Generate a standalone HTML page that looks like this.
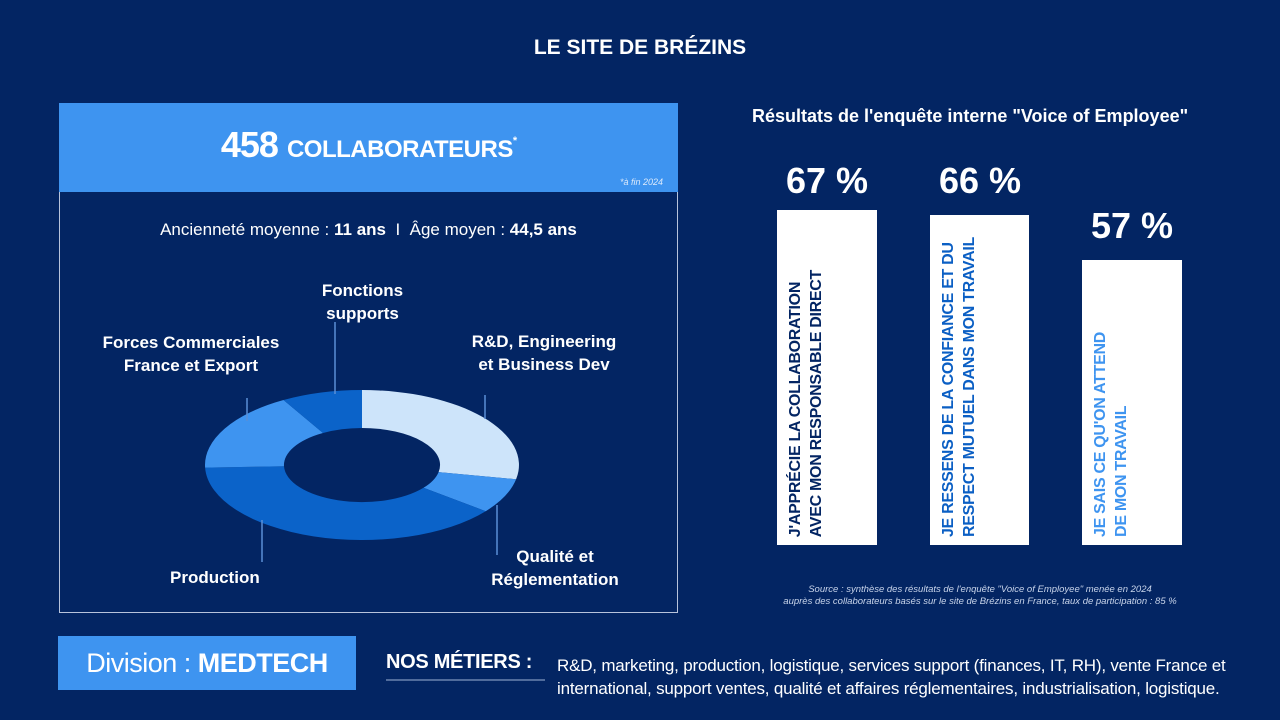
<!DOCTYPE html>
<html><head><meta charset="utf-8"><style>
body{margin:0;width:1280px;height:720px;background:#032563;font-family:"Liberation Sans",sans-serif;color:#fff;position:relative;overflow:hidden}
.a{position:absolute;white-space:nowrap}
.b{font-weight:bold}
.vt{position:absolute;writing-mode:vertical-rl;transform:rotate(180deg);font-weight:bold;font-size:16px;line-height:21px;letter-spacing:-0.3px;text-align:left}
</style></head><body>
<div class="a b" style="left:0;width:1280px;text-align:center;top:36px;font-size:21px">LE SITE DE BRÉZINS</div>

<div style="position:absolute;left:59px;top:103px;width:617px;height:508px;border:1px solid #b8c4dc"></div>
<div style="position:absolute;left:59px;top:103px;width:619px;height:89px;background:#3e94f0"></div>
<div class="a b" style="left:59px;width:619px;text-align:center;top:124px;font-size:36px;letter-spacing:-1px">458 <span style="font-size:24px;letter-spacing:-0.5px">COLLABORATEURS</span><sup style="font-size:11px">*</sup></div>
<div class="a" style="left:620px;top:177px;font-size:9px;font-style:italic;color:#dbe9fb">*à fin 2024</div>
<div class="a" style="left:59px;width:619px;text-align:center;top:220px;font-size:17px">Ancienneté moyenne : <b>11 ans</b> &nbsp;I&nbsp; Âge moyen : <b>44,5 ans</b></div>

<svg style="position:absolute;left:0;top:0" width="1280" height="720">
<path d="M362,390 A157 75 0 0 1 516.1,479.3 L438.6,472.1 A78 37 0 0 0 362,428 Z" fill="#cde4fa"/>
<path d="M516.1,479.3 A157 75 0 0 1 485.7,511.2 L423.5,487.8 A78 37 0 0 0 438.6,472.1 Z" fill="#3e94f0"/>
<path d="M485.7,511.2 A157 75 0 0 1 205.1,467.6 L284,466.3 A78 37 0 0 0 423.5,487.8 Z" fill="#0b63c9"/>
<path d="M205.1,467.6 A157 75 0 0 1 283.5,400 L323,433 A78 37 0 0 0 284,466.3 Z" fill="#3e94f0"/>
<path d="M283.5,400 A157 75 0 0 1 362,390 L362,428 A78 37 0 0 0 323,433 Z" fill="#0b63c9"/>
<g stroke="#5a8fd6" stroke-width="1.5">
<line x1="335" y1="322" x2="335" y2="394"/>
<line x1="247" y1="398" x2="247" y2="421"/>
<line x1="485" y1="395" x2="485" y2="419"/>
<line x1="497" y1="505" x2="497" y2="555"/>
<line x1="262" y1="520" x2="262" y2="562"/>
</g>
<line x1="386" y1="680" x2="545" y2="680" stroke="#9fb2d6" stroke-width="1"/>
</svg>
<div class="a b" style="left:290px;width:145px;text-align:center;top:279px;font-size:17px;line-height:23px">Fonctions<br>supports</div>
<div class="a b" style="left:85px;width:212px;text-align:center;top:331px;font-size:17px;line-height:23px">Forces Commerciales<br>France et Export</div>
<div class="a b" style="left:455px;width:178px;text-align:center;top:330px;font-size:17px;line-height:23px">R&amp;D, Engineering<br>et Business Dev</div>
<div class="a b" style="left:480px;width:150px;text-align:center;top:545px;font-size:17px;line-height:23px">Qualité et<br>Réglementation</div>
<div class="a b" style="left:170px;top:568px;font-size:17px">Production</div>

<div class="a b" style="left:752px;top:106px;font-size:18px">Résultats de l'enquête interne "Voice of Employee"</div>
<div class="a b" style="left:777px;width:100px;text-align:center;top:160px;font-size:36px">67 %</div>
<div class="a b" style="left:930px;width:100px;text-align:center;top:160px;font-size:36px">66 %</div>
<div class="a b" style="left:1082px;width:100px;text-align:center;top:205px;font-size:36px">57 %</div>
<div style="position:absolute;left:777px;top:210px;width:100px;height:335px;background:#fff"></div>
<div style="position:absolute;left:930px;top:215px;width:99px;height:330px;background:#fff"></div>
<div style="position:absolute;left:1082px;top:260px;width:100px;height:285px;background:#fff"></div>
<div class="vt" style="left:785px;bottom:183px;color:#032563">J'APPRÉCIE LA COLLABORATION<br>AVEC MON RESPONSABLE DIRECT</div>
<div class="vt" style="left:938px;bottom:183px;color:#0b5fc4">JE RESSENS DE LA CONFIANCE ET DU<br>RESPECT MUTUEL DANS MON TRAVAIL</div>
<div class="vt" style="left:1090px;bottom:183px;color:#3e94f0">JE SAIS CE QU'ON ATTEND<br>DE MON TRAVAIL</div>
<div class="a" style="left:740px;width:480px;text-align:center;top:584px;font-size:9.5px;font-style:italic;line-height:12px;color:#c8d4ea">Source : synthèse des résultats de l'enquête "Voice of Employee" menée en 2024<br>auprès des collaborateurs basés sur le site de Brézins en France, taux de participation : 85 %</div>

<div style="position:absolute;left:58px;top:636px;width:298px;height:54px;background:#3e94f0"></div>
<div class="a" style="left:58px;width:298px;text-align:center;top:648px;font-size:27px;letter-spacing:-0.5px">Division : <b>MEDTECH</b></div>
<div class="a b" style="left:386px;top:651px;font-size:20px;letter-spacing:-0.3px">NOS MÉTIERS :</div>
<div class="a" style="left:557px;top:654px;font-size:17px;line-height:23px;letter-spacing:-0.2px">R&amp;D, marketing, production, logistique, services support (finances, IT, RH), vente France et<br>international, support ventes, qualité et affaires réglementaires, industrialisation, logistique.</div>
</body></html>
